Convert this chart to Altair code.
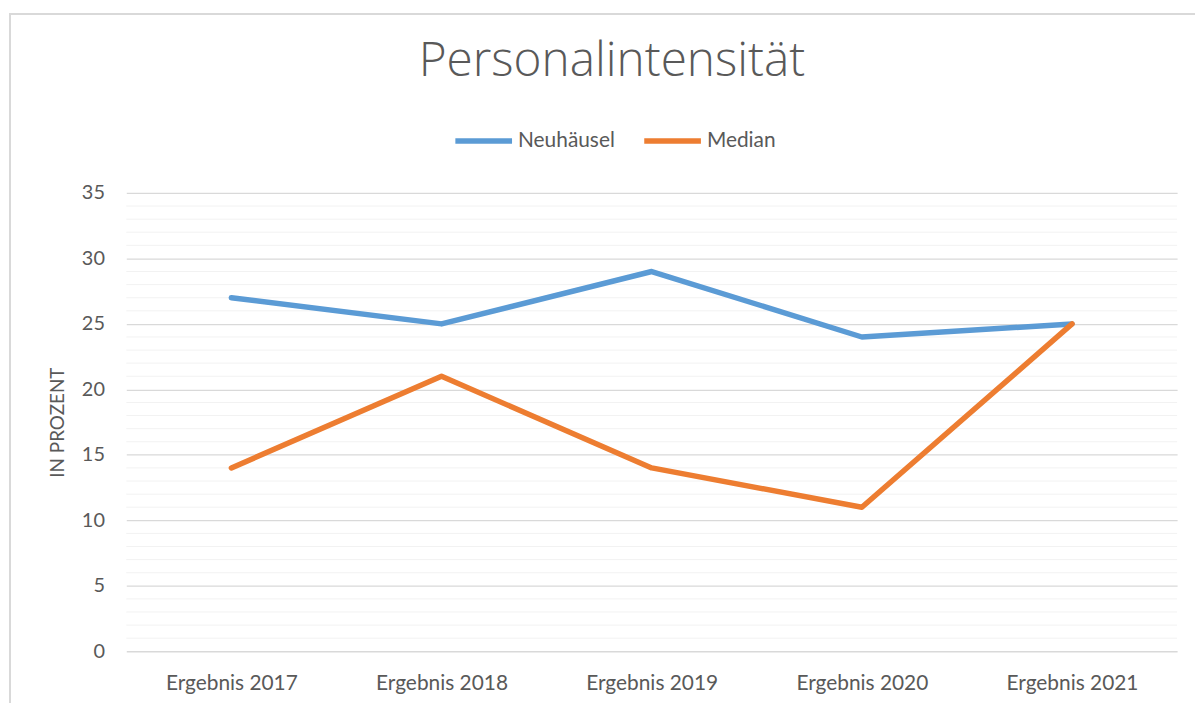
import altair as alt
import pandas as pd

# ---- data ----
years = ["Ergebnis 2017", "Ergebnis 2018", "Ergebnis 2019", "Ergebnis 2020", "Ergebnis 2021"]
neuhaeusel = [27, 25, 29, 24, 25]
median = [14, 21, 14, 11, 25]
series_names = ["Neuhäusel", "Median"]
series_colors = ["#5B9BD5", "#ED7D31"]
major_ticks = [0, 5, 10, 15, 20, 25, 30, 35]
minor_ticks = [v for v in range(0, 36) if v % 5 != 0]

df = pd.DataFrame({
    "Jahr": years * 2,
    "Wert": neuhaeusel + median,
    "Serie": [series_names[0]] * len(years) + [series_names[1]] * len(years),
})
minor_df = pd.DataFrame({"v": minor_ticks})

FONT = "Lato"
TEXT = "#595959"
W, H = 1057, 461

y_scale = alt.Scale(domain=[0, 35], nice=False, zero=True)
y_axis = alt.Axis(values=major_ticks, title="IN PROZENT", titleFont=FONT,
                  titleFontSize=19, titleFontWeight="normal", titleColor=TEXT,
                  titleX=-69, titleY=H / 2, titleBaseline="middle", titleAngle=-90,
                  labelFontSize=20, labelColor=TEXT, labelFont=FONT, labelPadding=22,
                  ticks=False, domain=False, grid=True, gridColor="#D9D9D9", gridWidth=1.3)

minor_grid = alt.Chart(minor_df).mark_rule(color="#F2F2F2", strokeWidth=1).encode(
    y=alt.Y("v:Q", scale=y_scale, axis=y_axis, title="IN PROZENT")
)

lines = alt.Chart(df).mark_line(strokeWidth=5.5, strokeCap="round", strokeJoin="round").encode(
    x=alt.X("Jahr:N", sort=years,
            scale=alt.Scale(type="point", padding=0.5),
            axis=alt.Axis(title=None, labelFontSize=21, labelColor=TEXT, labelFont=FONT,
                          labelPadding=21, ticks=False, domain=False, grid=False, labelAngle=0)),
    y=alt.Y("Wert:Q", scale=y_scale, axis=y_axis, title="IN PROZENT"),
    color=alt.Color("Serie:N", sort=series_names,
                    scale=alt.Scale(domain=series_names, range=series_colors),
                    legend=alt.Legend(title=None, orient="none", direction="horizontal",
                                      legendX=328, legendY=-84,
                                      symbolType="stroke", symbolSize=3249, symbolStrokeWidth=5.5,
                                      labelFont=FONT, labelFontSize=21, labelColor=TEXT,
                                      labelOffset=3, columnPadding=18)),
)

border = alt.Chart(pd.DataFrame({"k": [0]})).mark_rect(
    fillOpacity=0, stroke="#D9D9D9", strokeWidth=2
).encode(
    x=alt.value(-117), x2=alt.value(W + 200), y=alt.value(-180), y2=alt.value(H + 200)
)

chart = alt.layer(border, minor_grid, lines).properties(
    width=W, height=H,
    autosize=alt.AutoSizeParams(type="none"),
    padding={"left": 119, "top": 184, "right": 18, "bottom": 50},
    title=alt.Title("Personalintensität", font="Open Sans", fontSize=48, fontWeight=300,
                    color=TEXT, anchor="middle", frame="group", dx=-40, offset=-111,
                    baseline="alphabetic"),
).configure(background="white").configure_view(stroke=None)

chart.save("out.html", embed_options={"renderer": "svg", "actions": False})
